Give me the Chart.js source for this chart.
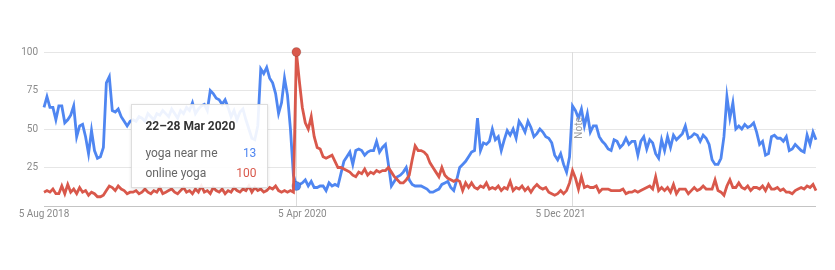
<!DOCTYPE html>
<html>
<head>
<meta charset="utf-8">
<script src="https://cdn.jsdelivr.net/npm/chart.js@4"></script>
<style>
  html, body { margin: 0; padding: 0; background: #fff; }
  #wrap { position: relative; width: 835px; height: 270px; }
  #tip {
    position: absolute; width: 137px; height: 84px; box-sizing: border-box;
    background: rgba(255,255,255,0.9); border: 1px solid rgba(0,0,0,0.13);
    box-shadow: 0 1px 3px rgba(0,0,0,0.12);
    font-family: Roboto, sans-serif; padding: 13px 11px 0 13px;
  }
  #tip .t { font-size: 12px; font-weight: bold; color: #333; line-height: 16px; margin-bottom: 9px; }
  #tip .r { display: flex; justify-content: space-between; font-size: 12px; line-height: 20px; color: #666; }
</style>
</head>
<body>
<div id="wrap">
  <canvas id="myChart" width="835" height="270"></canvas>
  <div id="tip"></div>
</div>
<script>
// weekly values, first week starts 5 Aug 2018
let startDate = new Date(2018, 7, 5);
let seriesNames = ['yoga near me', 'online yoga'];
let nearMe = [
  64,71,64,64,56,65,65,54,56,59, 65,45,52,53,45,34,49,36,31,32,
  38,80,84,62,61,63,58,55,52,55, 56,55,58,57,55,60,58,56,60,59,
  62,60,58,63,60,57,62,60,64,62, 67,60,63,65,66,62,75,73,70,69,
  66,69,64,58,62,56,61,63,56,50, 44,43,52,89,86,90,83,80,73,60,
  67,83,72,50,20,13,14,15,17,13, 16,12,12,13,13,10,15,13,14,13,
  21,29,32,35,27,36,37,36,33,35, 36,36,42,35,38,40,27,13,16,19,
  20,22,25,17,14,13,13,13,12,11, 9,9,10,11,14,15,16,12,10,17,
  25,27,29,32,35,36,57,36,41,40, 42,50,43,45,36,43,49,46,50,44,
  55,52,48,55,51,45,47,50,48,45, 44,41,33,30,34,27,22,32,65,62,
  57,63,52,60,48,52,52,45,42,40, 37,36,43,42,38,40,44,40,42,42,
  33,42,45,37,43,41,34,31,43,36, 45,38,46,43,45,47,52,44,45,47,
  46,42,46,44,40,30,27,27,31,45, 71,57,67,50,52,50,53,51,52,54,
  48,40,42,33,34,45,46,44,44,42, 45,36,37,40,38,36,35,46,40,48,43
];
let onlineYoga = [
  9,10,9,11,8,8,13,8,14,9, 11,8,12,9,10,7,9,8,6,6,
  7,10,13,12,10,13,11,10,8,9, 9,10,8,9,11,9,8,10,9,12,
  8,9,10,11,9,8,10,12,9,10, 8,11,9,13,9,10,8,12,10,9,
  11,8,10,9,12,10,9,11,10,13, 9,12,10,11,9,10,12,11,13,10,
  9,10,9,10,9,100,81,64,54,50, 58,45,38,37,32,31,32,33,29,25,
  25,24,23,22,20,19,22,21,24,20, 22,21,23,22,23,23,25,22,19,17,
  15,15,17,20,30,39,36,36,35,33, 28,25,22,19,25,20,18,17,16,17,
  16,10,15,12,15,12,11,13,12,15, 11,12,11,13,10,12,11,16,10,12,
  11,13,10,12,9,12,14,12,11,12, 9,8,7,8,10,8,10,15,23,18,
  11,19,12,13,12,12,13,9,11,11, 11,10,10,10,10,11,8,9,9,10,
  9,10,11,12,13,11,19,10,12,10, 12,9,14,8,11,11,11,8,10,12,
  10,11,13,11,11,11,17,10,9,7, 13,17,12,12,15,12,11,13,10,12,
  12,11,13,10,14,11,11,12,10,11, 9,9,8,10,11,12,11,13,12,14,10
];
let tickWeeks = [0, 87, 174];   // 5 Aug 2018, 5 Apr 2020, 5 Dec 2021
let hoverWeek = 85;             // 22-28 Mar 2020
let noteWeek = 177.7;           // data note, start of 2022
let months = ['Jan','Feb','Mar','Apr','May','Jun','Jul','Aug','Sep','Oct','Nov','Dec'];
let blue = '#4f86f1';
let red = '#d9584b';

let weeks = nearMe.map((v, i) => {
  let d = new Date(startDate);
  d.setDate(d.getDate() + 7 * i);
  return d;
});
let labels = weeks.map(d => d.getDate() + ' ' + months[d.getMonth()] + ' ' + d.getFullYear());

let guides = {
  id: 'guides',
  beforeDatasetsDraw(chart) {
    let {ctx, chartArea, scales: {x}} = chart;
    ctx.save();
    ctx.strokeStyle = '#dcdcdc';
    ctx.lineWidth = 1;
    [noteWeek, hoverWeek].forEach(w => {
      let px = Math.round(x.getPixelForValue(w)) + 0.5;
      ctx.beginPath();
      ctx.moveTo(px, chartArea.top);
      ctx.lineTo(px, chartArea.bottom);
      ctx.stroke();
    });
    ctx.restore();
  },
  afterDatasetsDraw(chart) {
    let {ctx, chartArea, scales: {x}} = chart;
    ctx.save();
    ctx.translate(x.getPixelForValue(noteWeek) + 8, chartArea.top + 76);
    ctx.rotate(-Math.PI / 2);
    ctx.fillStyle = '#9e9e9e';
    ctx.font = '10px Roboto';
    ctx.textAlign = 'center';
    ctx.textBaseline = 'middle';
    ctx.fillText('Note', 0, 0);
    ctx.restore();
  }
};

let hoverRadius = ctx => ctx.dataIndex === hoverWeek ? 4.5 : 0;

let chart = new Chart(document.getElementById('myChart').getContext('2d'), {
  type: 'line',
  data: {
    labels: labels,
    datasets: [
      {
        label: seriesNames[0], data: nearMe, order: 1,
        borderColor: blue, backgroundColor: blue, borderWidth: 2.8,
        pointRadius: hoverRadius, pointBorderColor: 'rgba(0,0,0,0.15)', pointBorderWidth: 1,
        tension: 0, clip: false
      },
      {
        label: seriesNames[1], data: onlineYoga, order: 0,
        borderColor: red, backgroundColor: red, borderWidth: 2.8,
        pointRadius: hoverRadius, pointBorderColor: 'rgba(0,0,0,0.15)', pointBorderWidth: 1,
        tension: 0, clip: false
      }
    ]
  },
  options: {
    responsive: false,
    animation: false,
    events: [],
    layout: { padding: { top: 52, right: 19, bottom: 0, left: 0 } },
    plugins: { legend: { display: false }, tooltip: { enabled: false } },
    scales: {
      x: {
        grid: { display: false, drawTicks: false },
        border: { display: false },
        ticks: {
          autoSkip: false, maxRotation: 0, padding: 2,
          color: '#8a8a8a', font: { family: 'Roboto', size: 10 },
          callback: (v, i) => tickWeeks.includes(i) ? labels[i] : null
        },
        afterFit: s => { s.height = 64; }
      },
      y: {
        min: 0, max: 100,
        ticks: {
          stepSize: 25, padding: 6,
          color: '#8a8a8a', font: { family: 'Roboto', size: 10 },
          callback: v => v === 0 ? '' : v
        },
        grid: {
          drawTicks: false,
          color: c => c.tick.value === 0 ? '#c4c4c4' : '#e6e6e6'
        },
        border: { display: false },
        afterFit: s => { s.width = 44; }
      }
    }
  },
  plugins: [guides]
});

// hover box for the week of the online yoga peak
let tip = document.getElementById('tip');
let d1 = weeks[hoverWeek];
let d2 = new Date(d1); d2.setDate(d2.getDate() + 6);
tip.innerHTML =
  '<div class="t">' + d1.getDate() + '\u2013' + d2.getDate() + ' ' + months[d2.getMonth()] + ' ' + d2.getFullYear() + '</div>' +
  '<div class="r"><span>' + seriesNames[0] + '</span><span style="color:' + blue + '">' + nearMe[hoverWeek] + '</span></div>' +
  '<div class="r"><span>' + seriesNames[1] + '</span><span style="color:' + red + '">' + onlineYoga[hoverWeek] + '</span></div>';
let hx = chart.scales.x.getPixelForValue(hoverWeek);
tip.style.left = (hx - 28 - 137) + 'px';
tip.style.top = (chart.chartArea.top + 52) + 'px';
</script>
</body>
</html>
